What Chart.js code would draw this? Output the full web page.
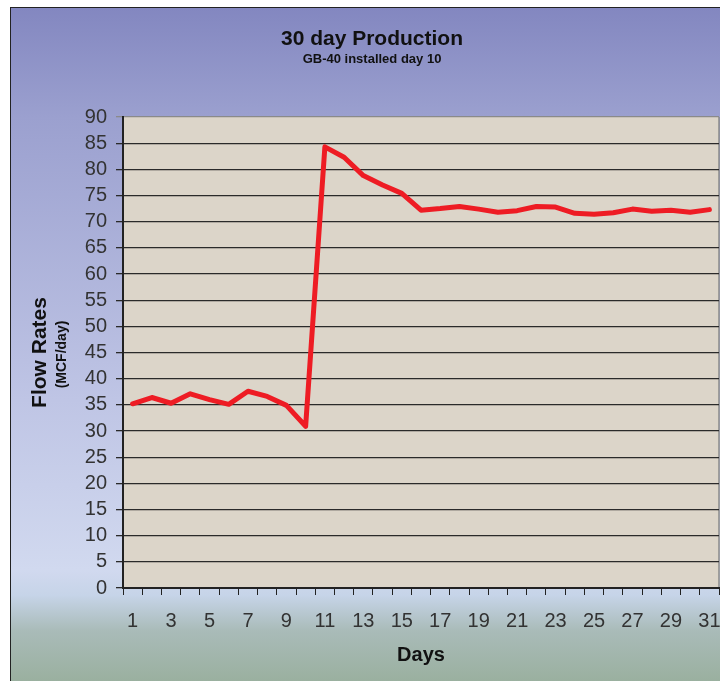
<!DOCTYPE html>
<html>
<head>
<meta charset="utf-8">
<script src="https://cdn.jsdelivr.net/npm/chart.js@4.4.1/dist/chart.umd.min.js"></script>
<style>
html,body{margin:0;padding:0;background:#fff;overflow:hidden;width:720px;height:681px}
#frame{position:absolute;left:10px;top:7px;width:740px;height:700px;border:1px solid #222;
background:linear-gradient(to bottom,#8387c0 0%,#9ba0cf 15.6%,#bfc5e5 56%,#d1d9ef 80.3%,#c6d4e8 83.9%,#a9bbb8 89%,#92aa92 100%);}
#c{position:absolute;left:0;top:0}
</style>
</head>
<body>
<div id="frame"><canvas id="c" width="724" height="673"></canvas></div>
<script>
const titleText = '30 day Production';
const subtitleText = 'GB-40 installed day 10';
const xTitle = 'Days';
const yTitle = 'Flow Rates';
const yUnit = '(MCF/day)';
const days = [1,2,3,4,5,6,7,8,9,10,11,12,13,14,15,16,17,18,19,20,21,22,23,24,25,26,27,28,29,30,31];
const flowRates = [35.2,36.4,35.3,37.1,36.0,35.1,37.6,36.6,34.9,30.9,84.3,82.3,78.8,77.0,75.4,72.2,72.5,72.9,72.4,71.8,72.1,72.9,72.8,71.6,71.4,71.7,72.4,72.0,72.2,71.8,72.3];
const yTicks = {min:0, max:90, step:5};

const FONT = "'Liberation Sans', Arial, Helvetica, sans-serif";

const plotBg = {
  id:'plotBg',
  beforeDraw(chart){
    const {ctx, chartArea:a} = chart;
    ctx.save();
    ctx.fillStyle = '#dcd5c9';
    ctx.fillRect(a.left, a.top, a.right-a.left, a.bottom-a.top);
    ctx.strokeStyle = '#8a8a8a';
    ctx.lineWidth = 1.5;
    ctx.beginPath();
    ctx.moveTo(a.right, a.top); ctx.lineTo(a.right, a.bottom);
    ctx.stroke();
    ctx.restore();
  },
  afterDraw(chart){
    const {ctx, chartArea:a} = chart;
    ctx.save();
    ctx.fillStyle = '#111';
    ctx.font = 'bold 14px ' + FONT;
    ctx.textAlign = 'center';
    ctx.textBaseline = 'middle';
    ctx.translate(51, (a.top+a.bottom)/2 + 2);
    ctx.rotate(-Math.PI/2);
    ctx.fillText(yUnit, 0, 0);
    ctx.restore();
  }
};

new Chart(document.getElementById('c'), {
  type:'line',
  data:{
    labels: days,
    datasets:[{
      data: flowRates,
      borderColor:'#ee1c24',
      borderWidth:5,
      pointRadius:0,
      pointHoverRadius:0,
      tension:0,
      fill:false,
      borderJoinStyle:'round',
      borderCapStyle:'round'
    }]
  },
  options:{
    responsive:false,
    animation:false,
    devicePixelRatio:1,
    layout:{padding:{left:14,right:16,top:0,bottom:0}},
    plugins:{
      legend:{display:false},
      tooltip:{enabled:false},
      title:{display:true,text:titleText,color:'#111',font:{family:FONT,size:21,weight:'bold',lineHeight:1.0},padding:{top:21,bottom:0}},
      subtitle:{display:true,text:subtitleText,color:'#111',font:{family:FONT,size:13,weight:'bold',lineHeight:1.0},padding:{top:3,bottom:51}}
    },
    scales:{
      x:{
        type:'category',
        offset:true,
        grid:{offset:true,drawOnChartArea:false,drawTicks:true,tickLength:7,color:'#222',lineWidth:1},
        border:{display:true,color:'#222',width:2},
        ticks:{autoSkip:false,maxRotation:0,minRotation:0,color:'#333',padding:14,
          font:{family:FONT,size:20},
          callback:function(v,i){return i%2===0 ? this.getLabelForValue(v) : '';}},
        title:{display:true,text:xTitle,color:'#111',font:{family:FONT,size:20,weight:'bold'},padding:{top:0,bottom:14}},
        afterFit(s){ s.height = 93; }
      },
      y:{
        min:yTicks.min, max:yTicks.max,
        grid:{drawTicks:true,tickLength:7,lineWidth:1.3,
          color:(c)=> c.tick && c.tick.value===yTicks.max ? '#8a8a8a' : '#2a2a2a'},
        border:{display:true,color:'#222',width:2},
        ticks:{stepSize:yTicks.step,autoSkip:false,color:'#333',padding:9,font:{family:FONT,size:20,lineHeight:1.0}},
        title:{display:true,text:yTitle,color:'#111',font:{family:FONT,size:21,weight:'bold'},padding:{top:3,bottom:0}},
        afterFit(s){ s.width = 98; }
      }
    }
  },
  plugins:[plotBg]
});
</script>
</body>
</html>
